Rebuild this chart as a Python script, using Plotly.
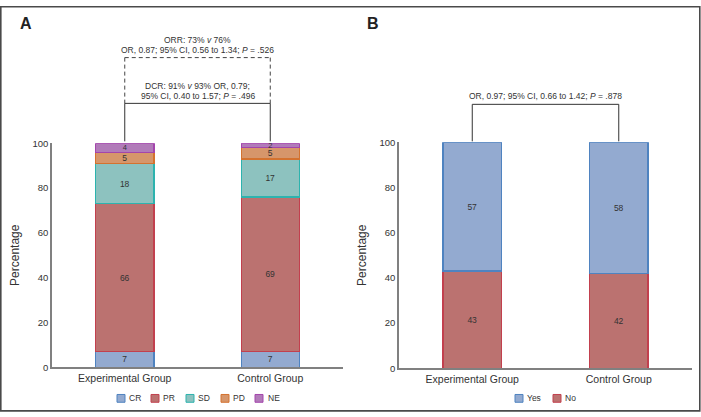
import plotly.graph_objects as go

W, H = 701, 417

# ---------------- data ----------------
groups = ["Experimental Group", "Control Group"]

resp_names = ["CR", "PR", "SD", "PD", "NE"]
resp_exp = [7, 66, 18, 5, 4]
resp_ctl = [7, 69, 17, 5, 2]

b_names = ["No", "Yes"]
b_exp = [43, 57]
b_ctl = [42, 58]

yticks = [0, 20, 40, 60, 80, 100]

orr_line1 = "ORR: 73% <i>v</i> 76%"
orr_line2 = "OR, 0.87; 95% CI, 0.56 to 1.34; <i>P</i> = .526"
dcr_line1 = "DCR: 91% <i>v</i> 93% OR, 0.79;"
dcr_line2 = "95% CI, 0.40 to 1.57; <i>P</i> = .496"
b_text = "OR, 0.97; 95% CI, 0.66 to 1.42; <i>P</i> = .878"

# ---------------- styles ----------------
fills = {"CR": "#93aad0", "PR": "#bb7270", "SD": "#8dc2bf", "PD": "#d6966b", "NE": "#b17bb9",
         "Yes": "#93aad0", "No": "#bb7270"}
edges = {"CR": "#4f83c0", "PR": "#c2404e", "SD": "#2db3ae", "PD": "#d4722f", "NE": "#a445ac",
         "Yes": "#4f83c0", "No": "#c2404e"}
label_size = {"NE": 7.5}

FONT = "Liberation Sans, Arial, Helvetica, sans-serif"
TXT = "#333333"
AX = "#808080"


def px_x(x):
    return x / W


def px_y(y):
    return (H - y) / H


fig = go.Figure()

for i, name in enumerate(resp_names):
    vals = [resp_exp[i], resp_ctl[i]]
    fig.add_trace(go.Bar(
        x=groups, y=vals, name=name, xaxis="x", yaxis="y",
        marker=dict(color=fills[name], line=dict(color=edges[name], width=1.3)),
        text=[str(v) for v in vals], textposition="inside", insidetextanchor="middle",
        textangle=0, constraintext="none",
        textfont=dict(size=label_size.get(name, 8.5), color=TXT, family=FONT),
        width=0.4, cliponaxis=False, showlegend=False,
    ))

for i, name in enumerate(b_names):
    vals = [b_exp[i], b_ctl[i]]
    fig.add_trace(go.Bar(
        x=groups, y=vals, name=name, xaxis="x2", yaxis="y2",
        marker=dict(color=fills[name], line=dict(color=edges[name], width=1.3)),
        text=[str(v) for v in vals], textposition="inside", insidetextanchor="middle",
        textangle=0, constraintext="none",
        textfont=dict(size=8.5, color=TXT, family=FONT),
        width=0.4, cliponaxis=False, showlegend=False,
    ))

xax = dict(type="category", range=[-0.5, 1.5], showline=True, linecolor=AX, linewidth=1.5,
           showgrid=False, zeroline=False, ticks="", tickfont=dict(size=10.5, color=TXT, family=FONT),
           fixedrange=True)
yax = dict(range=[0, 100], tickvals=yticks, showline=True, linecolor=AX, linewidth=1.5,
           showgrid=False, zeroline=False, ticks="", tickfont=dict(size=9.5, color=TXT, family=FONT),
           title=dict(text="Percentage", font=dict(size=12, color=TXT, family=FONT), standoff=10),
           fixedrange=True)

fig.update_layout(
    width=W, height=H, autosize=False,
    margin=dict(l=0, r=0, t=0, b=0),
    paper_bgcolor="white", plot_bgcolor="white",
    barmode="stack",
    font=dict(family=FONT, color=TXT),
    xaxis=dict(xax, domain=[px_x(52), px_x(343)], anchor="y"),
    yaxis=dict(yax, domain=[px_y(371), px_y(141)], anchor="x"),
    xaxis2=dict(xax, domain=[px_x(399), px_x(692)], anchor="y2"),
    yaxis2=dict(yax, domain=[px_y(372), px_y(140)], anchor="x2"),
)

shapes = []
# frame
shapes.append(dict(type="rect", xref="paper", yref="paper", x0=px_x(0.8), x1=px_x(699.8),
                   y0=px_y(415.8), y1=px_y(0.8), line=dict(color="#4a4a4a", width=1.6)))

ln = dict(color="#333333", width=1)
dash = dict(color="#444444", width=1, dash="4px,3px")
# Panel A: ORR dashed bracket
shapes += [
    dict(type="line", xref="x", yref="paper", x0=0, x1=1, y0=px_y(53), y1=px_y(53), line=dash),
    dict(type="line", xref="x", yref="paper", x0=0, x1=0, y0=px_y(53), y1=px_y(100), line=dash),
    dict(type="line", xref="x", yref="paper", x0=1, x1=1, y0=px_y(53), y1=px_y(100), line=dash),
]
# Panel A: DCR solid bracket
shapes += [
    dict(type="line", xref="x", yref="paper", x0=0, x1=1, y0=px_y(100), y1=px_y(100), line=ln),
    dict(type="line", xref="x", yref="paper", x0=0, x1=0, y0=px_y(100), y1=px_y(139), line=ln),
    dict(type="line", xref="x", yref="paper", x0=1, x1=1, y0=px_y(100), y1=px_y(139), line=ln),
]
# Panel B bracket
shapes += [
    dict(type="line", xref="x2", yref="paper", x0=0, x1=1, y0=px_y(101), y1=px_y(101), line=ln),
    dict(type="line", xref="x2", yref="paper", x0=0, x1=0, y0=px_y(101), y1=px_y(139), line=ln),
    dict(type="line", xref="x2", yref="paper", x0=1, x1=1, y0=px_y(101), y1=px_y(139), line=ln),
]

annotations = []


def note(text, xref, x, y, size=8.5):
    annotations.append(dict(text=text, xref=xref, yref="paper", x=x, y=px_y(y),
                            xanchor="center", yanchor="middle", showarrow=False,
                            font=dict(size=size, color=TXT, family=FONT)))


note(orr_line1, "x", 0.5, 35)
note(orr_line2, "x", 0.5, 45)
note(dcr_line1, "x", 0.5, 82)
note(dcr_line2, "x", 0.5, 92)
note(b_text, "x2", 0.5, 92)

# panel letters
for letter, x in (("A", 26), ("B", 373)):
    annotations.append(dict(text="<b>%s</b>" % letter, xref="paper", yref="paper",
                            x=px_x(x), y=px_y(18), xanchor="center", yanchor="middle",
                            showarrow=False, font=dict(size=16, color="#222222", family=FONT)))


# legends (compact, as in reference)
def legend(names, box_lefts, text_lefts, yc=403):
    for name, bl, tl in zip(names, box_lefts, text_lefts):
        shapes.append(dict(type="rect", xref="paper", yref="paper",
                           x0=px_x(bl), x1=px_x(bl + 8), y0=px_y(yc + 4), y1=px_y(yc - 4),
                           fillcolor=fills[name], line=dict(color=edges[name], width=1)))
        annotations.append(dict(text=name, xref="paper", yref="paper", x=px_x(tl), y=px_y(yc),
                                xanchor="left", yanchor="middle", showarrow=False,
                                font=dict(size=8.5, color=TXT, family=FONT)))


legend(resp_names, [117, 151, 186, 221, 255], [127, 161, 196, 231, 266])
legend(["Yes", "No"], [515, 553], [525, 563])

fig.update_layout(shapes=shapes, annotations=annotations)

post = ("document.documentElement.style.margin='0';document.body.style.margin='0';"
        "document.body.style.padding='0';document.body.style.overflow='hidden';"
        "var d=document.getElementById('{plot_id}');d.style.position='absolute';"
        "d.style.left='0px';d.style.top='0px';")
fig.write_html("out.html", post_script=post, config={"displayModeBar": False})
